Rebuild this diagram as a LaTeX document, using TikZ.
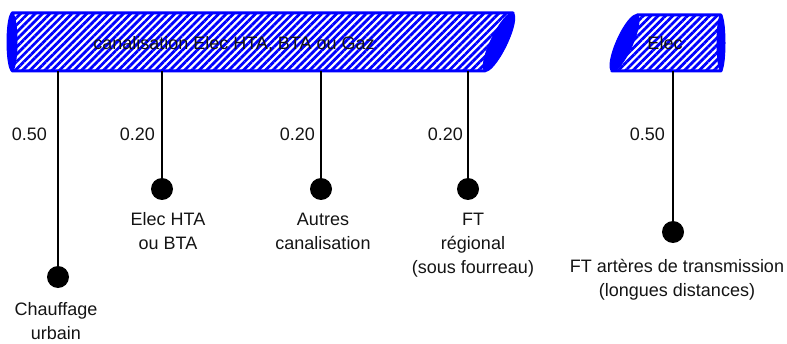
\documentclass[tikz,border=0pt]{standalone}
\usepackage{fontspec}
\setmainfont{Liberation Sans}
\usetikzlibrary{patterns.meta}
\definecolor{pipeblue}{RGB}{0,0,255}
\definecolor{txt}{RGB}{20,20,20}
\begin{document}
\begin{tikzpicture}[x=1pt,y=1pt,
  pipebody/.style={draw=pipeblue,line width=3pt,line join=round,
    pattern={Lines[angle=45,distance=5.2pt,line width=2.8pt]},pattern color=pipeblue},
  pipecap/.style={fill=pipeblue,draw=pipeblue,line width=1pt},
  stem/.style={line width=2.5pt,black},
  dot/.style={circle,fill=black,minimum size=22pt,inner sep=0pt},
  val/.style={font=\fontsize{18}{24}\selectfont,text=txt,anchor=base east,inner sep=0pt},
  lab/.style={font=\fontsize{18}{24}\selectfont,text=txt,align=center,anchor=base,inner sep=0pt},
  ptxt/.style={font=\fontsize{18}{24}\selectfont,text=txt,anchor=base,inner sep=0pt}]
\useasboundingbox (0,0) rectangle (787,343);
% big pipe
\path[pipebody] (12,330) -- (513,330) -- (485,272) -- (12,272) -- cycle;
\fill[pipecap] (12,301) ellipse [x radius=5,y radius=29];
\fill[pipecap,rotate around={64.2:(499,301)}] (499,301) ellipse [x radius=32.2,y radius=8];
\node[ptxt] (pipeA) at (234,293) {canalisation Elec HTA, BTA ou Gaz};
% elec pipe
\path[pipebody] (637,328) -- (721,328) -- (721,272) -- (612,272) -- cycle;
\fill[pipecap] (721,300) ellipse [x radius=4,y radius=28];
\fill[pipecap,rotate around={65.9:(624.5,300)}] (624.5,300) ellipse [x radius=30.7,y radius=8];
\node[ptxt] (pipeB) at (665,293) {Elec};
% anchor coordinates on pipes
\coordinate (s1) at (58,272);
\coordinate (s2) at (162,272);
\coordinate (s3) at (321,272);
\coordinate (s4) at (468,272);
\coordinate (s5) at (673,272);
% dots
\node[dot] (d1) at (58,66) {};
\node[dot] (d2) at (162,154) {};
\node[dot] (d3) at (321,154) {};
\node[dot] (d4) at (468,154) {};
\node[dot] (d5) at (673,111) {};
\draw[stem] (s1) -- (d1.center);
\draw[stem] (s2) -- (d2.center);
\draw[stem] (s3) -- (d3.center);
\draw[stem] (s4) -- (d4.center);
\draw[stem] (s5) -- (d5.center);
% values
\node[val] (v1) at (47,202) {0.50};
\node[val] (v2) at (155,202) {0.20};
\node[val] (v3) at (315,202) {0.20};
\node[val] (v4) at (463,202) {0.20};
\node[val] (v5) at (665,202) {0.50};
% labels (anchored at the baseline of the last line)
\node[lab] (l1) at (56,4) {Chauffage\\urbain};
\node[lab] (l2) at (168,93) {Elec HTA\\ou BTA};
\node[lab] (l3) at (323,93) {Autres\\canalisation};
\node[lab] (l4) at (473,70) {FT\\régional\\(sous fourreau)};
\node[lab] (l5) at (677,47) {FT artères de transmission\\(longues distances)};
\end{tikzpicture}
\end{document}
